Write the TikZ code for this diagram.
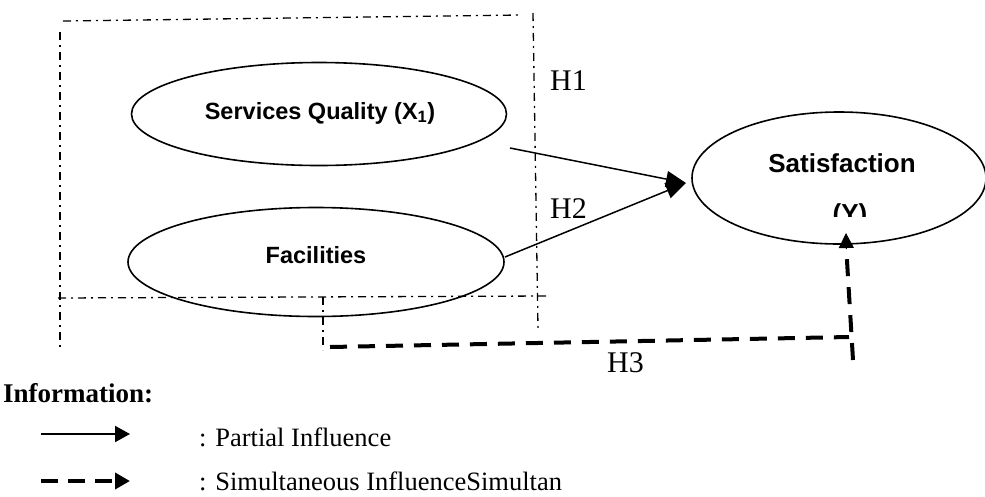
\documentclass[tikz,border=0pt]{standalone}
\usepackage{fontspec}
\setmainfont{Liberation Serif}
\newfontfamily\arialf{Liberation Sans}
\usetikzlibrary{arrows.meta,shapes.geometric}
\tikzset{
  var/.style={ellipse, draw, line width=1.6pt, inner sep=0pt},
  vtext/.style={font=\arialf\bfseries\fontsize{23.5}{28}\selectfont, anchor=base, inner sep=0pt},
  frame/.style={line width=1.3pt, dash pattern=on 8pt off 5pt on 2pt off 5pt},
  partial/.style={line width=1.5pt, -{Triangle[length=20pt,width=16pt]}},
  simul/.style={line width=4pt, dash pattern=on 17pt off 11pt},
  hlab/.style={font=\fontsize{30}{34}\selectfont, anchor=base west, inner sep=0pt},
  legtext/.style={font=\fontsize{26.5}{30}\selectfont, anchor=base west, inner sep=0pt}
}
\begin{document}
\begin{tikzpicture}[x=1pt,y=-1pt]
\useasboundingbox (0,0) rectangle (985,496);
% frames
\coordinate (f1) at (63,21); \coordinate (f2) at (520,15);
\coordinate (f3) at (533,13); \coordinate (f4) at (538,328);
\coordinate (f5) at (60,32); \coordinate (f6) at (60,347);
\coordinate (f7) at (58,298); \coordinate (f8) at (547,296);
\coordinate (f9) at (323,297); \coordinate (f10) at (323,350);
\draw[frame] (f1) -- (f2);
\draw[frame] (f3) -- (f4);
\draw[frame] (f5) -- (f6);
\draw[frame] (f7) -- (f8);
\draw[frame] (f9) -- (f10);
% variables
\node[var, minimum width=375pt, minimum height=103pt] (sq) at (319,114) {};
\node[vtext] (sqt) at (320,119) {Services Quality (X\textsubscript{1})};
\node[var, minimum width=376pt, minimum height=109pt] (fac) at (316,262) {};
\node[vtext] (fact) at (316,263) {Facilities};
\node[var, minimum width=294pt, minimum height=132pt] (sat) at (839,178) {};
\node[vtext, font=\arialf\bfseries\fontsize{26}{30}\selectfont] (satt) at (842,172) {Satisfaction};
\begin{scope}
\clip (780,190) rectangle (920,216);
\node[vtext, font=\arialf\bfseries\fontsize{26}{30}\selectfont] (saty) at (850,222) {(Y)};
\end{scope}
% connectors
\coordinate (h1s) at (510,148);
\coordinate (h2s) at (505,257);
\coordinate (tip) at (686,183);
\draw[partial] (h1s) -- (tip);
\draw[partial] (h2s) -- (tip);
\coordinate (d1) at (330,347);
\coordinate (d2) at (849,337);
\coordinate (d3) at (853,360);
\coordinate (d4) at (846,233);
\coordinate (d5) at (846.3,249);
\draw[simul] (d1) -- (d2);
\draw[simul] (d3) -- (d5);
\draw[line width=1pt, -{Triangle[length=15pt,width=15pt]}] (d5) -- (d4);
% labels
\node[hlab] (h1) at (550,90) {H1};
\node[hlab] (h2) at (550,218) {H2};
\node[hlab] (h3) at (607,372) {H3};
% legend
\node[font=\bfseries\fontsize{27}{31}\selectfont, anchor=base west, inner sep=0pt] (info) at (3,402) {Information:};
\coordinate (l1a) at (41,434); \coordinate (l1b) at (130,434);
\coordinate (l2a) at (41,481); \coordinate (l2b) at (130,481);
\draw[line width=2pt, -{Triangle[length=15pt,width=16pt]}] (l1a) -- (l1b);
\draw[line width=4pt, dash pattern=on 17pt off 10pt, -{Triangle[length=15pt,width=16pt]}] (l2a) -- (l2b);
\node[legtext] (lt1) at (199,446) {: Partial Influence};
\node[legtext] (lt2) at (199,490) {: Simultaneous InfluenceSimultan};
\end{tikzpicture}
\end{document}
